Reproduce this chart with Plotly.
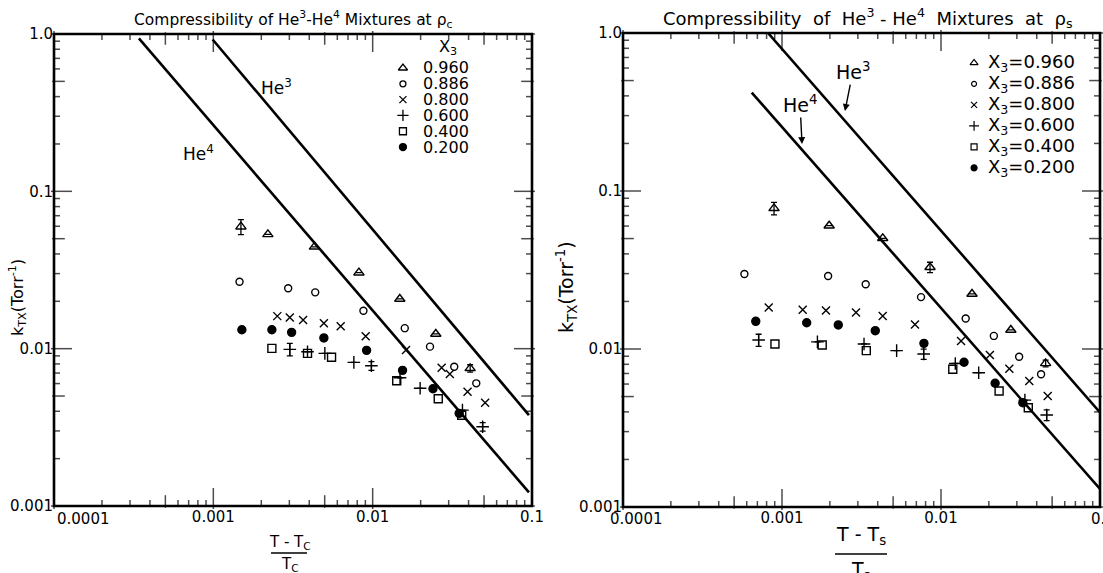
import plotly.graph_objects as go

# ---------------- data ----------------
series_labels = ["0.960", "0.886", "0.800", "0.600", "0.400", "0.200"]

# Left panel: compressibility at rho_c  (x = (T-Tc)/Tc , y = k_TX in Torr^-1)
c_x_960 = [0.00149, 0.00220, 0.00431, 0.0082, 0.0148, 0.0249, 0.0409]
c_y_960 = [0.0596, 0.0533, 0.0444, 0.0304, 0.0207, 0.0124, 0.0075]
c_e_960 = [0.0065, None, None, None, None, None, 0.0004]

c_x_886 = [0.00146, 0.00295, 0.00436, 0.00875, 0.0159, 0.0229, 0.0325, 0.0447]
c_y_886 = [0.0266, 0.0242, 0.0228, 0.0174, 0.0135, 0.0103, 0.00767, 0.00602]

c_x_800 = [0.00252, 0.00302, 0.00366, 0.00494, 0.0063, 0.00904, 0.0162, 0.0271, 0.0305, 0.0394, 0.0508]
c_y_800 = [0.0161, 0.0158, 0.0152, 0.0145, 0.0139, 0.0120, 0.0098, 0.00756, 0.0069, 0.00532, 0.00453]

c_x_600 = [0.00302, 0.0039, 0.00501, 0.00762, 0.00982, 0.01485, 0.01986, 0.0366, 0.049]
c_y_600 = [0.00989, 0.00955, 0.00933, 0.00818, 0.00778, 0.00653, 0.0056, 0.00407, 0.00319]
c_e_600 = [0.0009, None, None, None, 0.0005, None, None, None, 0.0002]

c_x_400 = [0.00233, 0.0039, 0.00552, 0.01416, 0.0258, 0.0362]
c_y_400 = [0.01004, 0.00933, 0.00881, 0.00625, 0.00481, 0.00377]

c_x_200 = [0.00151, 0.00233, 0.0031, 0.00494, 0.00916, 0.0154, 0.0239, 0.0349]
c_y_200 = [0.0132, 0.0132, 0.0127, 0.0117, 0.00976, 0.00728, 0.00556, 0.00388]

c_he3_x = [0.00099, 0.0957]
c_he3_y = [0.923, 0.00378]
c_he4_x = [0.000341, 0.0957]
c_he4_y = [0.937, 0.00122]

# Right panel: compressibility at rho_s
s_x_960 = [0.000891, 0.00198, 0.0043, 0.00853, 0.01567, 0.0275, 0.0455]
s_y_960 = [0.0777, 0.0603, 0.0502, 0.0329, 0.0223, 0.0132, 0.00811]
s_e_960 = [0.007, None, None, 0.0025, None, None, 0.0004]

s_x_886 = [0.00058, 0.00195, 0.00336, 0.00749, 0.0143, 0.0215, 0.031, 0.0426]
s_y_886 = [0.0298, 0.029, 0.0257, 0.0213, 0.0156, 0.0121, 0.00894, 0.00692]

s_x_800 = [0.000825, 0.00135, 0.00189, 0.00292, 0.0043, 0.00686, 0.01337, 0.0203, 0.0269, 0.0359, 0.0469]
s_y_800 = [0.0183, 0.0177, 0.0175, 0.0170, 0.0162, 0.0143, 0.01124, 0.00916, 0.0075, 0.00627, 0.00504]

s_x_600 = [0.000713, 0.00167, 0.00328, 0.00526, 0.00778, 0.0123, 0.01726, 0.0337, 0.0462]
s_y_600 = [0.0114, 0.0111, 0.01076, 0.00976, 0.00929, 0.0081, 0.00708, 0.00475, 0.00382]
s_e_600 = [0.001, None, None, None, 0.0007, None, None, None, 0.0003]

s_x_400 = [0.000903, 0.00179, 0.00339, 0.01186, 0.0232, 0.0354]
s_y_400 = [0.01076, 0.0106, 0.00976, 0.00744, 0.00542, 0.00425]

s_x_200 = [0.000684, 0.00143, 0.00226, 0.00386, 0.00781, 0.01396, 0.0219, 0.0327]
s_y_200 = [0.01497, 0.01467, 0.0142, 0.01306, 0.01086, 0.00824, 0.00607, 0.00457]

s_he3_x = [0.000817, 0.1]
s_he3_y = [1.0, 0.00397]
s_he4_x = [0.000645, 0.1]
s_he4_y = [0.42, 0.0013]

x_tick_vals = [0.0001, 0.001, 0.01, 0.1]
x_tick_text = ["0.0001", "0.001", "0.01", "0.1"]
y_tick_vals = [0.001, 0.01, 0.1, 1.0]
y_tick_text = ["0.001", "0.01", "0.1", "1.0"]

# ---------------- styling ----------------
FONT = "DejaVu Sans"
symbols = ["triangle-up-open", "circle-open", "x-thin-open", "cross-thin-open", "square-open", "circle"]
sizes = [9, 7, 8, 9, 8, 8]

W, H = 1103, 573
L_PX = (54, 532, 34, 506)    # left, right, top, bottom of left panel
R_PX = (623, 1100, 33, 507)
XR = [-4, -1]
YR = [-3, 0]


def px_x(v):
    return v / W


def px_y(v):
    return 1 - v / H


def frac_to_log(f, rng):
    return 10 ** (rng[0] + f * (rng[1] - rng[0]))


fig = go.Figure()

left_sets = [
    (c_x_960, c_y_960, c_e_960), (c_x_886, c_y_886, None), (c_x_800, c_y_800, None),
    (c_x_600, c_y_600, c_e_600), (c_x_400, c_y_400, None), (c_x_200, c_y_200, None),
]
right_sets = [
    (s_x_960, s_y_960, s_e_960), (s_x_886, s_y_886, None), (s_x_800, s_y_800, None),
    (s_x_600, s_y_600, s_e_600), (s_x_400, s_y_400, None), (s_x_200, s_y_200, None),
]

# ---- inward tick marks: line-shaped markers placed on each panel's log scale ----
TICK_LEN = {1: 15, 5: 9}
TICK_MIN = 5
for xa, ya, px in (("x", "y", L_PX), ("x2", "y2", R_PX)):
    wpx = px[1] - px[0]
    hpx = px[3] - px[2]
    dx_per_px = (XR[1] - XR[0]) / wpx
    dy_per_px = (YR[1] - YR[0]) / hpx
    tx, ty, tsym, tsize = [], [], [], []
    for e in range(XR[0], XR[1] + 1):
        for m in range(1, 10):
            if e == XR[1] and m > 1:
                break
            v = m * 10.0 ** e
            ln = TICK_LEN.get(m, TICK_MIN)
            half = ln / 2 * dy_per_px
            for yl in (YR[0] + half, YR[1] - half):
                tx.append(v)
                ty.append(10 ** yl)
                tsym.append("line-ns-open")
                tsize.append(ln)
    for e in range(YR[0], YR[1] + 1):
        for m in range(1, 10):
            if e == YR[1] and m > 1:
                break
            v = m * 10.0 ** e
            ln = TICK_LEN.get(m, TICK_MIN)
            half = ln / 2 * dx_per_px
            for xl in (XR[0] + half, XR[1] - half):
                tx.append(10 ** xl)
                ty.append(v)
                tsym.append("line-ew-open")
                tsize.append(ln)
    fig.add_trace(go.Scatter(x=tx, y=ty, mode="markers", xaxis=xa, yaxis=ya,
                             showlegend=False, hoverinfo="skip", cliponaxis=False,
                             marker=dict(symbol=tsym, size=tsize, color="black",
                                         line=dict(color="black", width=1.5))))

for xa, ya, sets in (("x", "y", left_sets), ("x2", "y2", right_sets)):
    if xa == "x":
        lines = [(c_he3_x, c_he3_y), (c_he4_x, c_he4_y)]
    else:
        lines = [(s_he3_x, s_he3_y), (s_he4_x, s_he4_y)]
    for lx, ly in lines:
        fig.add_trace(go.Scatter(x=lx, y=ly, mode="lines", xaxis=xa, yaxis=ya,
                                 line=dict(color="black", width=2.6), showlegend=False,
                                 hoverinfo="skip"))
    for i, (xs, ys, es) in enumerate(sets):
        err = None
        if es is not None:
            err = dict(type="data", array=es, visible=True, color="black",
                       thickness=1.3, width=3)
        fig.add_trace(go.Scatter(
            x=xs, y=ys, mode="markers", xaxis=xa, yaxis=ya, showlegend=False,
            name=series_labels[i], error_y=err,
            marker=dict(symbol=symbols[i], size=sizes[i], color="black",
                        line=dict(color="black", width=1.4))))

# legend swatches (placed at fixed fractions of each panel)
leg_left_x = 0.730
leg_left_y0, leg_left_dy = 0.928, 0.0335
leg_right_x = 0.736
leg_right_y0, leg_right_dy = 0.937, 0.0443
for i in range(len(series_labels)):
    fig.add_trace(go.Scatter(x=[frac_to_log(leg_left_x, XR)],
                             y=[frac_to_log(leg_left_y0 - i * leg_left_dy, YR)],
                             mode="markers", xaxis="x", yaxis="y", showlegend=False,
                             hoverinfo="skip",
                             marker=dict(symbol=symbols[i], size=sizes[i] - 1, color="black",
                                         line=dict(color="black", width=1.3))))
    fig.add_trace(go.Scatter(x=[frac_to_log(leg_right_x, XR)],
                             y=[frac_to_log(leg_right_y0 - i * leg_right_dy, YR)],
                             mode="markers", xaxis="x2", yaxis="y2", showlegend=False,
                             hoverinfo="skip",
                             marker=dict(symbol=symbols[i], size=sizes[i] - 2, color="black",
                                         line=dict(color="black", width=1.2))))

# the first x label is drawn from the axis start and the right panel's last one runs off the page,
# so those two are placed as annotations instead of axis labels
x_axis_text = [""] + x_tick_text[1:]
x2_axis_text = [""] + x_tick_text[1:-1] + [""]


def main_axis(domain, rng, anchor, tv, tt):
    return dict(type="log", domain=domain, range=rng, anchor=anchor, automargin=False,
                tickmode="array", tickvals=tv, ticktext=tt, ticks="",
                showline=False, showgrid=False, zeroline=False,
                tickfont=dict(family=FONT, size=15, color="black"))


lx_dom = [px_x(L_PX[0]), px_x(L_PX[1])]
ly_dom = [px_y(L_PX[3]), px_y(L_PX[2])]
rx_dom = [px_x(R_PX[0]), px_x(R_PX[1])]
ry_dom = [px_y(R_PX[3]), px_y(R_PX[2])]

fig.update_layout(
    template="none",
    width=W, height=H, margin=dict(l=0, r=0, t=0, b=0, pad=0), autosize=False,
    paper_bgcolor="white", plot_bgcolor="white",
    font=dict(family=FONT, color="black"),
    xaxis=main_axis(lx_dom, XR, "y", x_tick_vals, x_axis_text),
    yaxis=main_axis(ly_dom, YR, "x", y_tick_vals, y_tick_text),
    xaxis2=main_axis(rx_dom, XR, "y2", x_tick_vals, x2_axis_text),
    yaxis2=main_axis(ry_dom, YR, "x2", y_tick_vals, y_tick_text),
    showlegend=False,
)

shapes = []
for xa, ya in (("x", "y"), ("x2", "y2")):
    shapes.append(dict(type="rect", xref=xa + " domain", yref=ya + " domain",
                       x0=0, x1=1, y0=0, y1=1, line=dict(color="black", width=2.6),
                       layer="above"))
shapes.append(dict(type="line", xref="paper", yref="paper", x0=px_x(271), x1=px_x(307),
                   y0=px_y(553), y1=px_y(553), line=dict(color="black", width=1.5)))
shapes.append(dict(type="line", xref="paper", yref="paper", x0=px_x(835), x1=px_x(887),
                   y0=px_y(554), y1=px_y(554), line=dict(color="black", width=1.5)))

ann = []
ann.append(dict(text="Compressibility of He<sup>3</sup>-He<sup>4</sup> Mixtures at ρ<sub>c</sub>",
                x=px_x(293), y=px_y(19), xref="paper", yref="paper", showarrow=False,
                font=dict(size=15.5), xanchor="center", yanchor="middle"))
ann.append(dict(text="Compressibility  of  He<sup>3</sup> - He<sup>4</sup>  Mixtures  at  ρ<sub>s</sub>",
                x=px_x(867), y=px_y(18), xref="paper", yref="paper", showarrow=False,
                font=dict(size=18), xanchor="center", yanchor="middle"))
ann.append(dict(text="k<sub>TX</sub>(Torr<sup>-1</sup>)", textangle=-90,
                x=px_x(17), y=px_y(298), xref="paper", yref="paper", showarrow=False,
                font=dict(size=16), xanchor="center", yanchor="middle"))
ann.append(dict(text="k<sub>TX</sub>(Torr<sup>-1</sup>)", textangle=-90,
                x=px_x(566), y=px_y(287), xref="paper", yref="paper", showarrow=False,
                font=dict(size=19), xanchor="center", yanchor="middle"))
for xpx in (L_PX[0] + 1, R_PX[0] - 15):
    ann.append(dict(text=x_tick_text[0], x=px_x(xpx), y=px_y(519), xref="paper", yref="paper",
                    showarrow=False, font=dict(size=15), xanchor="left", yanchor="middle"))
ann.append(dict(text=x_tick_text[-1], x=px_x(R_PX[1] + 3), y=px_y(519), xref="paper", yref="paper",
                showarrow=False, font=dict(size=15), xanchor="center", yanchor="middle"))
ann.append(dict(text="T - T<sub>C</sub>", x=px_x(290), y=px_y(542), xref="paper", yref="paper",
                showarrow=False, font=dict(size=15), xanchor="center", yanchor="middle"))
ann.append(dict(text="T<sub>C</sub>", x=px_x(290), y=px_y(564), xref="paper", yref="paper",
                showarrow=False, font=dict(size=15), xanchor="center", yanchor="middle"))
ann.append(dict(text="T - T<sub>s</sub>", x=px_x(861), y=px_y(535), xref="paper", yref="paper",
                showarrow=False, font=dict(size=19), xanchor="center", yanchor="middle"))
ann.append(dict(text="T<sub>s</sub>", x=px_x(861), y=px_y(570), xref="paper", yref="paper",
                showarrow=False, font=dict(size=19), xanchor="center", yanchor="middle"))
ann.append(dict(text="He<sup>3</sup>", x=-2.606, y=-0.337, xref="x", yref="y", showarrow=False,
                font=dict(size=17)))
ann.append(dict(text="He<sup>4</sup>", x=-3.09, y=-0.757, xref="x", yref="y", showarrow=False,
                font=dict(size=17)))
ann.append(dict(text="He<sup>3</sup>", x=-2.604, y=-0.494, xref="x2", yref="y2", showarrow=True,
                ax=8, ay=-40, arrowhead=2, arrowsize=1, arrowwidth=1.4, arrowcolor="black",
                font=dict(size=19)))
ann.append(dict(text="He<sup>4</sup>", x=-2.874, y=-0.703, xref="x2", yref="y2", showarrow=True,
                ax=-2, ay=-40, arrowhead=2, arrowsize=1, arrowwidth=1.4, arrowcolor="black",
                font=dict(size=19)))
ann.append(dict(text="X<sub>3</sub>", x=px_x(448), y=px_y(48), xref="paper", yref="paper",
                showarrow=False, font=dict(size=16), xanchor="center", yanchor="middle"))
for i, lab in enumerate(series_labels):
    yl = L_PX[3] - (leg_left_y0 - i * leg_left_dy) * (L_PX[3] - L_PX[2])
    ann.append(dict(text=lab, x=px_x(421), y=px_y(yl), xref="paper", yref="paper",
                    showarrow=False, font=dict(size=16), xanchor="left", yanchor="middle"))
    yr = R_PX[3] - (leg_right_y0 - i * leg_right_dy) * (R_PX[3] - R_PX[2])
    ann.append(dict(text="X<sub>3</sub>=" + lab, x=px_x(986), y=px_y(yr), xref="paper", yref="paper",
                    showarrow=False, font=dict(size=18), xanchor="left", yanchor="middle"))

fig.update_layout(annotations=ann, shapes=shapes)

fig.write_html("out.html", config={"displayModeBar": False},
               post_script="document.body.style.margin='0px';document.body.style.overflow='hidden';")
